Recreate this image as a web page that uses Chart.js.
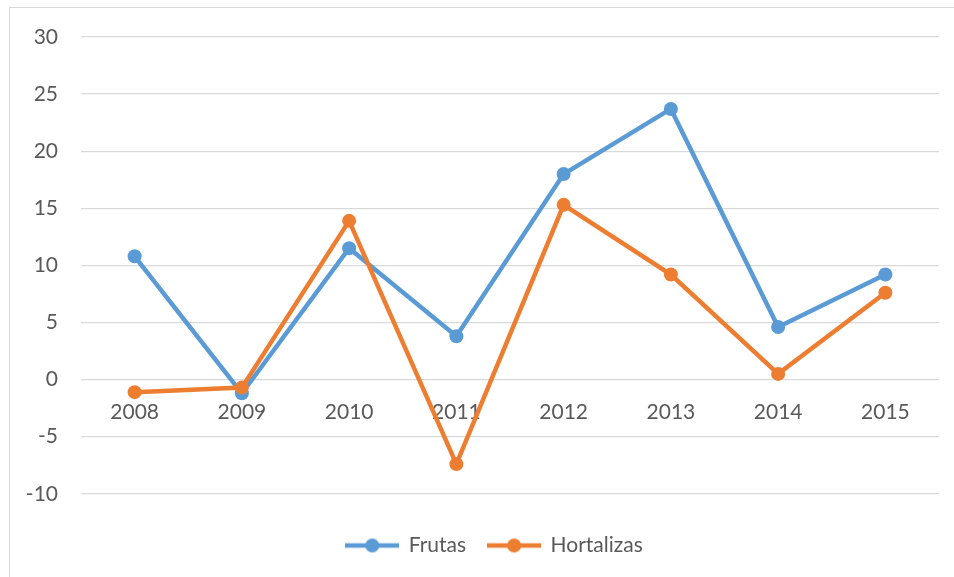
<!DOCTYPE html>
<html>
<head>
<meta charset="utf-8">
<script src="https://cdn.jsdelivr.net/npm/chart.js@4/dist/chart.umd.min.js"></script>
<style>
  body { margin: 0; background: #fff; }
  #frame {
    position: absolute; left: 9px; top: 7px;
    width: 945px; height: 570px;
    border-left: 1px solid #d9d9d9; border-top: 1px solid #d9d9d9;
  }
</style>
</head>
<body>
<div id="frame"><canvas id="chart" width="944" height="569"></canvas></div>
<script>
// Data
const years = ['2008', '2009', '2010', '2011', '2012', '2013', '2014', '2015'];
const frutas = [10.8, -1.2, 11.5, 3.8, 18.0, 23.7, 4.6, 9.2];
const hortalizas = [-1.1, -0.7, 13.9, -7.4, 15.3, 9.2, 0.5, 7.6];

const BLUE = '#5B9BD5';
const ORANGE = '#ED7D31';
const TEXT = '#595959';
const GRID = '#d9d9d9';

// legend marker: short line with a dot in the middle (Excel style)
function legendMarker(color) {
    const c = document.createElement('canvas');
    c.width = 54; c.height = 16;
    const g = c.getContext('2d');
    g.strokeStyle = color;
    g.lineWidth = 4.5;
    g.beginPath(); g.moveTo(0, 8); g.lineTo(54, 8); g.stroke();
    g.fillStyle = color;
    g.beginPath(); g.arc(27, 8, 7, 0, Math.PI * 2); g.fill();
    return c;
}
const markers = [legendMarker(BLUE), legendMarker(ORANGE)];

// Excel puts the legend a bit right of the canvas centre
const legendShift = {
    id: 'legendShift',
    afterLayout(chart) {
        chart.legend.left += 20;
        chart.legend.right += 20;
    }
};

Chart.defaults.font.family = 'Lato, "Open Sans", sans-serif';
Chart.defaults.color = TEXT;

new Chart(document.getElementById('chart').getContext('2d'), {
    type: 'line',
    data: {
        labels: years,
        datasets: [
            { label: 'Frutas', data: frutas, borderColor: BLUE, backgroundColor: BLUE, order: 1 },
            { label: 'Hortalizas', data: hortalizas, borderColor: ORANGE, backgroundColor: ORANGE, order: 0 }
        ]
    },
    plugins: [legendShift],
    options: {
        responsive: false,
        animation: false,
        elements: {
            line: { borderWidth: 4.5, tension: 0 },
            point: { radius: 7, borderWidth: 0, hoverRadius: 7, pointStyle: 'circle' }
        },
        layout: { padding: { top: 29, right: 15, bottom: 11, left: 0 } },
        scales: {
            x: {
                position: { y: 0 },   // category labels sit under the zero line
                offset: true,
                grid: { display: false, drawTicks: false, tickLength: 0 },
                border: { display: false },
                ticks: { font: { size: 21 }, color: TEXT, padding: 20, maxRotation: 0 }
            },
            y: {
                min: -10,
                max: 30,
                // invisible tick marks give the gap between labels and plot
                grid: { color: GRID, lineWidth: 1.3, drawTicks: true, tickLength: 23, tickColor: 'rgba(0,0,0,0)' },
                border: { display: false },
                ticks: { stepSize: 5, font: { size: 21 }, color: TEXT, padding: 0 },
                afterFit: (scale) => { scale.width = 71; }
            }
        },
        plugins: {
            tooltip: { enabled: false },
            legend: {
                position: 'bottom',
                title: { display: true, text: ' ', font: { size: 1 }, padding: 9 },
                labels: {
                    usePointStyle: true,
                    pointStyleWidth: 52,
                    padding: 22,
                    font: { size: 21 },
                    color: TEXT,
                    sort: (a, b) => a.datasetIndex - b.datasetIndex,
                    generateLabels: (chart) => {
                        const items = Chart.defaults.plugins.legend.labels.generateLabels(chart);
                        items.forEach(it => { it.pointStyle = markers[it.datasetIndex]; });
                        return items;
                    }
                }
            }
        }
    }
});
</script>
</body>
</html>
